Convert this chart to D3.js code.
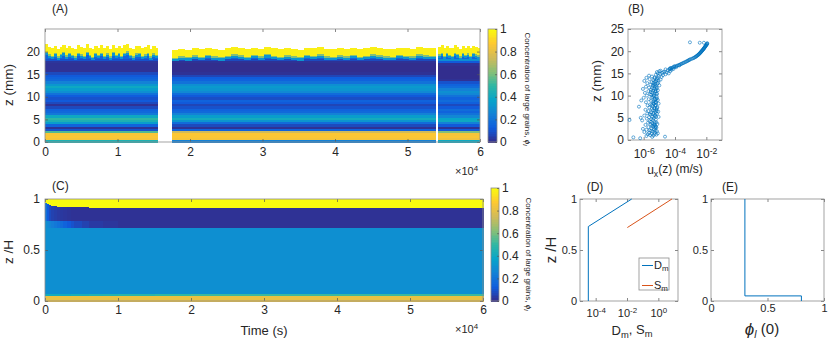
<!DOCTYPE html>
<html><head><meta charset="utf-8">
<script src="https://cdn.jsdelivr.net/npm/d3@7"></script>
<style>
body{margin:0;background:#fff}
text{font-family:"Liberation Sans",Arial,Helvetica,sans-serif;fill:#262626}
</style></head><body>
<svg id="fig" width="830" height="341" xmlns="http://www.w3.org/2000/svg"></svg>
<script>
// ---------------- DATA ----------------
// Panel A: measured concentration of large grains (phi_l) vs depth bands (0.5 mm) for three recording segments
const aSegments = [[0, 15600], [17500, 53900], [54200, 60000]];
const aBandBottom = [0,0.5,1,1.5,2,2.5,3,3.5,4,4.5,5,5.5,6,6.5,7,7.5,8,8.5,9,9.5,10,10.5,11,11.5,12,12.5,13,13.5,14,14.5,15,15.5,16,16.5,17,17.5,18];
const aPhiSeg1 = [0.45,0.85,0.87,0.86,0.55,0.1,0.02,0.15,0.35,0.45,0.5,0.4,0.22,0.17,0.15,0.08,0.02,0.08,0.12,0.1,0.13,0.2,0.3,0.35,0.4,0.33,0.25,0.17,0.15,0.12,0.08,0.02,0.02,0.02,0.02,0.03,0.1];
const aPhiSeg2 = [0.25,0.85,0.87,0.87,0.75,0.15,0.02,0.08,0.18,0.32,0.42,0.35,0.25,0.17,0.15,0.1,0.07,0.12,0.15,0.09,0.12,0.18,0.28,0.32,0.34,0.3,0.2,0.15,0.13,0.07,0.02,0.01,0.01,0.01,0.01,0.02,0.08];
const aPhiSeg3 = [0.4,0.83,0.86,0.85,0.62,0.12,0.02,0.12,0.25,0.4,0.38,0.27,0.2,0.15,0.18,0.12,0.08,0.14,0.18,0.15,0.2,0.27,0.3,0.25,0.18,0.15,0.1,0.02,0.01,0.01,0.01,0.01,0.01,0.01,0.02,0.12,0.3];
// free-surface height (mm) of each time column in each segment
const aTopSeg1 = [21.6,21.0,20.7,21.3,20.6,21.1,21.5,20.8,21.3,20.9,20.6,21.4,21.0,20.7,21.6,20.9,20.5,21.3,20.9,21.4,20.7,21.2,20.6,21.5,20.9,21.3,20.7,21.4,21.7,20.9,20.6,21.2,21.3,20.7,21.0,21.4,20.6,21.2,20.9];
const aTopSeg2 = [20.3,20.6,20.4,20.8,20.5,20.9,20.6,20.4,20.7,21.0,20.8,20.5,20.9,20.6,21.1,20.7,20.5,20.8,20.6,20.4,20.9,20.7,21.0,20.6,20.5,20.8,20.6,20.9,20.5,20.7,21.0,20.8,20.6,20.5,20.9,20.7,20.6,21.0,20.8,20.7];
const aTopSeg3 = [21.0,21.4,20.7,21.3,20.9,20.7,21.4,21.1,20.6,21.3,20.9,21.2,20.7,21.3,21.0,20.8];
const aTopLayerDepth = [2.3, 1.8, 1.5]; // depth below surface where each top layer starts
const aTopLayerPhi = [0.32, 0.62, 0.97];
const aTopBasePhi = 0.15;
const aXTicks = [0,10000,20000,30000,40000,50000,60000];
const aYTicks = [0,5,10,15,20];

// Panel B: u_x(z) scatter [z (mm), u (m/s)]
const bPoints = [[0.4,6e-7],[0.6,2.2e-7],[0.75,2.3e-5],[0.7,3.5e-6],[0.9,1.5e-6],[1.0,4.2e-6],[1.1,2.6e-6],[1.2,6.5e-6],[1.3,1.8e-6],[1.35,5e-6],[1.4,3.2e-6],[1.5,8e-6],[1.6,2.2e-6],[1.7,5e-6],[1.8,1.1e-6],[1.9,3.8e-6],[2.0,7e-6],[2.1,3e-6],[2.15,5.5e-6],[2.2,2.4e-6],[2.3,1.5e-6],[2.4,4.6e-6],[2.5,9e-7],[2.6,3.1e-6],[2.7,5.5e-6],[2.8,6.5e-6],[2.9,2e-6],[2.95,6e-6],[3.0,4e-6],[3.1,5.6e-6],[3.2,3.4e-6],[3.3,4.3e-6],[3.4,1.3e-6],[3.45,5e-6],[3.5,2.8e-6],[3.6,7.5e-6],[3.7,4.8e-6],[3.8,3.6e-6],[3.9,1.9e-6],[3.95,6.5e-6],[4.0,5.2e-6],[4.1,3e-6],[4.2,2.4e-6],[4.4,8e-7],[4.5,1.25e-7],[4.55,3.8e-6],[4.6,6e-6],[4.7,3e-6],[4.8,1.6e-6],[4.9,4.5e-6],[5.0,6.5e-7],[5.1,2.2e-6],[5.2,9e-6],[5.25,6e-6],[5.3,3.5e-6],[5.4,5e-6],[5.5,1.1e-6],[5.6,5.5e-6],[5.7,2.8e-6],[5.8,4e-6],[5.85,2.4e-6],[5.9,7e-6],[6.0,1.7e-6],[6.1,4.2e-6],[6.2,3e-6],[6.3,5.8e-6],[6.4,8.5e-6],[6.5,2e-6],[6.55,6.8e-6],[6.6,5e-6],[6.7,3.8e-6],[6.8,1.3e-6],[6.9,6.5e-6],[7.0,3.2e-6],[7.1,4.8e-6],[7.2,7e-6],[7.25,5e-6],[7.3,2.3e-6],[7.4,7.5e-6],[7.5,5e-7],[7.6,3.8e-6],[7.7,5.5e-6],[7.8,1.8e-6],[7.85,3.3e-6],[7.9,5.8e-6],[8.0,2.6e-6],[8.1,4.5e-6],[8.2,9e-6],[8.3,4.2e-6],[8.4,6.2e-6],[8.45,5.2e-6],[8.5,1.4e-6],[8.6,6e-6],[8.7,4e-6],[8.8,3e-6],[8.9,7e-7],[9.0,8e-6],[9.1,5e-6],[9.15,6.2e-6],[9.2,2.1e-6],[9.3,5.2e-6],[9.4,7e-6],[9.5,1e-6],[9.6,3.4e-6],[9.75,3.9e-6],[9.8,6.8e-6],[9.9,4.5e-6],[10.0,1.6e-6],[10.1,4.4e-6],[10.2,3e-6],[10.3,2.5e-6],[10.4,7.2e-6],[10.45,6.4e-6],[10.5,5e-6],[10.6,1.2e-6],[10.7,3.6e-6],[10.8,2.8e-6],[10.9,5.5e-6],[11.0,2e-6],[11.05,5.8e-6],[11.1,4e-6],[11.2,8e-6],[11.3,3e-6],[11.4,6e-6],[11.5,9e-7],[11.6,4.6e-6],[11.65,7e-6],[11.7,3.5e-6],[11.8,2.2e-6],[11.9,6.5e-6],[12.0,1.4e-6],[12.1,5e-6],[12.2,3.8e-6],[12.25,6e-6],[12.3,1e-5],[12.4,4.4e-6],[12.5,2.7e-6],[12.6,5.3e-6],[12.7,7.5e-6],[12.8,1.7e-6],[12.85,4.2e-6],[12.9,8.5e-6],[13.0,3.2e-6],[13.1,5e-6],[13.2,6e-6],[13.3,1.1e-6],[13.4,9e-6],[13.45,6.8e-6],[13.5,4.2e-6],[13.6,1.2e-5],[13.7,2.4e-6],[13.8,7e-6],[13.9,5e-6],[14.0,1.5e-6],[14.05,8e-6],[14.1,5e-6],[14.2,1.4e-5],[14.3,3.4e-6],[14.4,9e-6],[14.5,2.2e-6],[14.6,1.7e-5],[14.7,6e-6],[14.8,2.5e-5],[14.9,1.1e-5],[15.0,4e-5],[15.0,8e-6],[15.1,1.5e-5],[15.2,3e-5],[15.3,7e-6],[15.3,1.8e-5],[15.4,2.2e-5],[15.5,5e-5],[15.5,1e-5],[15.6,1.2e-5],[15.7,3.5e-5],[15.8,6e-5],[15.9,2.5e-5],[15.9,4.5e-5],[16.0,4.5e-5],[16.0,8e-5],[16.1,5.2e-5],[16.2,6e-5],[16.2,5e-5],[16.3,6.9e-5],[16.4,7.9e-5],[16.4,1.2e-4],[16.5,9.3e-5],[16.6,1.1e-4],[16.6,9e-5],[16.7,1.3e-4],[16.8,1.5e-4],[16.8,1.9e-4],[16.9,1.8e-4],[17.0,2.1e-4],[17.1,2.4e-4],[17.2,2.75e-4],[17.3,3.2e-4],[17.4,3.6e-4],[17.5,4.2e-4],[17.6,4.8e-4],[17.7,5.5e-4],[17.8,6.2e-4],[17.9,6.9e-4],[18.0,7.8e-4],[18.1,8.7e-4],[18.2,9.8e-4],[18.3,1.2e-3],[18.4,1.4e-3],[18.5,1.6e-3],[18.6,1.8e-3],[18.7,2e-3],[18.8,2.2e-3],[18.9,2.4e-3],[19.0,2.6e-3],[19.1,2.85e-3],[19.2,3.1e-3],[19.3,3.3e-3],[19.4,3.5e-3],[19.5,3.75e-3],[19.6,4e-3],[19.7,4.25e-3],[19.8,4.5e-3],[19.9,4.75e-3],[20.0,5e-3],[20.1,5.3e-3],[20.2,5.6e-3],[20.3,5.9e-3],[20.4,6.3e-3],[20.5,6.6e-3],[20.6,6.9e-3],[20.7,7.2e-3],[20.8,7.6e-3],[20.9,7.9e-3],[21.0,8.3e-3],[21.1,8.7e-3],[21.2,9.1e-3],[21.3,9.5e-3],[21.4,1e-2],[21.5,1.05e-2],[21.6,1.1e-2],[21.7,1.12e-2],[21.8,1.15e-2],[22.0,9e-4],[21.9,3.8e-3],[21.9,7e-3]];
const bXTicks = [1e-6, 1e-4, 1e-2];
const bYTicks = [0,5,10,15,20,25];

// Panel C: model phi_l(z/H, t)
const cTimeEdges = [0,250,500,800,1200,1600,2000,2500,3000,3500,4000,5000,6000,8000,10000,15000,20000,30000,40000,50000,60000];
const cYellowBottom = [0.97,0.955,0.945,0.94,0.935,0.93,0.928,0.926,0.925,0.924,0.923,0.922,0.921,0.92,0.92,0.92,0.92,0.92,0.92,0.92];
const cWedgePhi = [0.3,0.28,0.26,0.24,0.22,0.2,0.18,0.15,0.12,0.1,0.08,0.06,0.04,0.03,0.02,0.02,0.02,0.02,0.02,0.02];
const cDarkPhi = [0.2,0.12,0.08,0.06,0.05,0.04,0.035,0.03,0.025,0.02,0.02,0.02,0.02,0.02,0.02,0.02,0.02,0.02,0.02,0.02];
const cMidPhi = [0.3,0.3,0.3,0.3,0.3,0.3,0.3,0.3,0.3,0.3,0.3,0.3,0.3,0.3,0.3,0.3,0.3,0.3,0.3,0.3];
const cBottomMixPhi = [0.42,0.42,0.42,0.42,0.42,0.42,0.42,0.42,0.42,0.44,0.44,0.44,0.46,0.47,0.48,0.5,0.52,0.52,0.52,0.52];
const cBaseZ = [0, 0.05, 0.075, 0.72, 0.79]; // band bottoms: orange, mix, middle, wedge, dark
const cBasePhi = 0.82;
const cXTicks = [0,10000,20000,30000,40000,50000,60000];
const cYTicks = [0,0.5,1];

// Panel D: D_m and S_m profiles
const dDz = [0, 0.73, 1];
const dDm = [3.4e-5, 3.4e-5, 0.02];
const dSz = [0.72, 1];
const dSm = [0.0105, 7.4];
const dXTicks = [1e-4, 1e-2, 1];

// Panel E: initial phi_l(0) profile
const eZ = [1, 0.05, 0.05, 0];
const ePhi = [0.3, 0.3, 0.8, 0.8];
const eXTicks = [0, 0.5, 1];

const cbTicks = [0,0.2,0.4,0.6,0.8,1];

// ---------------- STYLE ----------------
const parulaPos = [0,.125,.25,.375,.5,.625,.75,.875,1];
const parulaCol = ["#352A87","#0F5CDD","#1481D6","#06A4CA","#2EB7A4","#87BF77","#D1BB59","#FEC832","#F9FB0E"];
const color = d3.scaleLinear().domain(parulaPos).range(parulaCol).interpolate(d3.interpolateRgb).clamp(true);
const BLUE = "#0072BD", ORANGE = "#D95319";
const svg = d3.select("#fig");

function styleAxis(g){
  g.select(".domain").remove();
  g.selectAll(".tick line").attr("stroke","#555").attr("stroke-width",0.7);
  g.selectAll(".tick text").attr("fill","#262626");
}
function drawAxes(x, y, o){
  const [xa,xb] = x.range(), [yb,ya] = y.range();
  const g = svg.append("g");
  const tl = o.tl || 3;
  g.append("g").attr("transform",`translate(0,${yb})`)
    .call(d3.axisBottom(x).tickValues(o.xt).tickSize(-tl).tickPadding(o.xpad).tickFormat(o.xf))
    .call(styleAxis).attr("font-size",o.fs).attr("font-family",null);
  g.append("g").attr("transform",`translate(0,${ya})`)
    .call(d3.axisTop(x).tickValues(o.xt).tickSize(-tl).tickFormat(""))
    .call(styleAxis);
  g.append("g").attr("transform",`translate(${xa},0)`)
    .call(d3.axisLeft(y).tickValues(o.yt).tickSize(-tl).tickPadding(o.ypad).tickFormat(o.yf))
    .call(styleAxis).attr("font-size",o.fs).attr("font-family",null);
  g.append("g").attr("transform",`translate(${xb},0)`)
    .call(d3.axisRight(y).tickValues(o.yt).tickSize(-tl).tickFormat(""))
    .call(styleAxis);
  g.append("rect").attr("x",xa).attr("y",ya).attr("width",xb-xa).attr("height",yb-ya)
    .attr("fill","none").attr("stroke","#8c8c8c").attr("stroke-width",0.8);
  return g;
}
function powLabels(g){
  g.selectAll(".tick text").each(function(d){
    const t = d3.select(this); const e = Math.round(Math.log10(d));
    t.text(""); t.append("tspan").text("10");
    t.append("tspan").attr("dy","-0.45em").attr("font-size","0.72em").text(e < 0 ? "-" + (-e) : e);
  });
}
function label(x, y, txt, fs, opts){
  const t = svg.append("text").attr("x",x).attr("y",y).attr("font-size",fs).attr("text-anchor",(opts&&opts.anchor)||"middle");
  if (opts && opts.rot) t.attr("transform",`rotate(${opts.rot},${x},${y})`);
  txt.forEach(p => { const s = t.append("tspan").text(p.t);
    if (p.sub) s.attr("font-size", p.fs || "0.72em").attr("dy", p.sub);
    if (p.it) s.attr("font-style","italic");
    if (p.fsz) s.attr("font-size", p.fsz); });
  return t;
}
function colorbar(x0, x1, y0, y1, lx, ly){
  const s = d3.scaleLinear().domain([0,1]).range([y1,y0]);
  const g = svg.append("g").attr("shape-rendering","crispEdges");
  const n = 64;
  g.selectAll("rect").data(d3.range(n)).join("rect")
    .attr("x",x0).attr("width",x1-x0)
    .attr("y",i=>s((i+1)/n)).attr("height",i=>s(i/n)-s((i+1)/n)+0.6)
    .attr("fill",i=>color((i+0.5)/n));
  svg.append("rect").attr("x",x0).attr("y",y0).attr("width",x1-x0).attr("height",y1-y0)
    .attr("fill","none").attr("stroke","#8c8c8c").attr("stroke-width",0.8);
  svg.append("g").attr("transform",`translate(${x1},0)`)
    .call(d3.axisRight(s).tickValues(cbTicks).tickSize(-2).tickPadding(3).tickFormat(d=>d3.format("~g")(d)))
    .call(styleAxis).attr("font-size",12).attr("font-family",null);
  label(lx, ly, [{t:"Concentration of large grains, "},{t:"ϕ",it:true},{t:"l",it:true,sub:"0.3em",fs:"0.75em"}], 8, {rot:90});
}

// ---------------- PANEL A ----------------
const xA = d3.scaleLinear().domain([0,60000]).range([45,480]);
const yA = d3.scaleLinear().domain([0,25]).range([142,29]);
const gA = svg.append("g").attr("shape-rendering","crispEdges");
const aProfiles = [aPhiSeg1, aPhiSeg2, aPhiSeg3];
const aTops = [aTopSeg1, aTopSeg2, aTopSeg3];
aSegments.forEach((seg, si) => {
  const prof = aProfiles[si];
  aBandBottom.forEach((z, i) => {
    const z1 = i < aBandBottom.length - 1 ? aBandBottom[i+1] : 18.5;
    gA.append("rect").attr("x",xA(seg[0])).attr("width",xA(seg[1])-xA(seg[0]))
      .attr("y",yA(z1)).attr("height",yA(z)-yA(z1)+0.5).attr("fill",color(prof[i]));
  });
  const tops = aTops[si], n = tops.length, w = (seg[1]-seg[0])/n;
  tops.forEach((h, j) => {
    const t0 = seg[0] + j*w, t1 = t0 + w;
    const bounds = [18.5, h - aTopLayerDepth[0], h - aTopLayerDepth[1], h - aTopLayerDepth[2], h];
    const phis = [aTopBasePhi].concat(aTopLayerPhi);
    phis.forEach((p, k) => {
      gA.append("rect").attr("x",xA(t0)).attr("width",xA(t1)-xA(t0)+0.3)
        .attr("y",yA(bounds[k+1])).attr("height",Math.max(0,yA(bounds[k])-yA(bounds[k+1])+0.5))
        .attr("fill",color(p));
    });
  });
});
drawAxes(xA, yA, {xt:aXTicks, yt:aYTicks, xf:d=>d/1e4, yf:d=>d, xpad:5, ypad:5, fs:12});
label(52, 13, [{t:"(A)"}], 12, {anchor:"start"});
label(13, 85, [{t:"z (mm)"}], 13.5, {rot:-90});
label(455, 175, [{t:"×10"},{t:"4",sub:"-0.5em"}], 11, {anchor:"start"});
colorbar(488, 497, 29, 142, 525, 89);

// ---------------- PANEL B ----------------
const xB = d3.scaleLog().domain([1e-7,1e-1]).range([628,722]);
const yB = d3.scaleLinear().domain([0,25]).range([140,29]);
const gBax = drawAxes(xB, yB, {xt:bXTicks, yt:bYTicks, xf:d=>d, yf:d=>d, xpad:9, ypad:4, fs:12});
gBax.select("g").call(powLabels);
svg.append("g").selectAll("circle").data(bPoints).join("circle")
  .attr("cx",d=>xB(d[1])).attr("cy",d=>yB(d[0])).attr("r",1.5)
  .attr("fill","none").attr("stroke",BLUE).attr("stroke-width",0.6);
label(636, 13, [{t:"(B)"}], 12);
label(601, 81, [{t:"z (mm)"}], 13.5, {rot:-90});
label(675, 174, [{t:"u"},{t:"x",sub:"0.3em"},{t:"(z) (m/s)",sub:"-0.3em",fs:"1em"}], 12);

// ---------------- PANEL C ----------------
const xC = d3.scaleLinear().domain([0,60000]).range([45,483]);
const yC = d3.scaleLinear().domain([0,1]).range([301,199]);
const gC = svg.append("g").attr("shape-rendering","crispEdges");
for (let j = 0; j < cTimeEdges.length - 1; j++){
  const t0 = cTimeEdges[j], t1 = cTimeEdges[j+1];
  const bounds = cBaseZ.concat([cYellowBottom[j], 1]);
  const phis = [cBasePhi, cBottomMixPhi[j], cMidPhi[j], cWedgePhi[j], cDarkPhi[j], 1];
  phis.forEach((p, k) => {
    gC.append("rect").attr("x",xC(t0)).attr("width",xC(t1)-xC(t0)+0.5)
      .attr("y",yC(bounds[k+1])).attr("height",yC(bounds[k])-yC(bounds[k+1])+0.5)
      .attr("fill",color(p));
  });
}
drawAxes(xC, yC, {xt:cXTicks, yt:cYTicks, xf:d=>d/1e4, yf:d=>d, xpad:4, ypad:5, fs:12});
label(52, 190, [{t:"(C)"}], 12, {anchor:"start"});
label(13, 252, [{t:"z /H"}], 13.5, {rot:-90});
label(264, 335, [{t:"Time (s)"}], 13);
label(455, 333, [{t:"×10"},{t:"4",sub:"-0.5em"}], 11, {anchor:"start"});
colorbar(491, 499, 188, 301, 526, 254);

// ---------------- PANEL D ----------------
const xD = d3.scaleLog().domain([1e-5,18]).range([580,678]);
const yD = d3.scaleLinear().domain([0,1]).range([301,199]);
const gDax = drawAxes(xD, yD, {xt:dXTicks, yt:cYTicks, xf:d=>d, yf:d=>d, xpad:8, ypad:3, fs:11});
gDax.select("g").call(powLabels);
const lineD = d3.line().x(d=>xD(d[0])).y(d=>yD(d[1]));
svg.append("path").datum(dDm.map((v,i)=>[v,dDz[i]])).attr("d",lineD).attr("fill","none").attr("stroke",BLUE).attr("stroke-width",1);
svg.append("path").datum(dSm.map((v,i)=>[v,dSz[i]])).attr("d",lineD).attr("fill","none").attr("stroke",ORANGE).attr("stroke-width",1);
svg.append("rect").attr("x",639).attr("y",258).attr("width",30).attr("height",32).attr("fill","#fff").attr("stroke","#8c8c8c").attr("stroke-width",0.8);
svg.append("line").attr("x1",642).attr("x2",653).attr("y1",265.5).attr("y2",265.5).attr("stroke",BLUE);
svg.append("line").attr("x1",642).attr("x2",653).attr("y1",285.5).attr("y2",285.5).attr("stroke",ORANGE);
label(654, 269, [{t:"D"},{t:"m",sub:"0.3em"}], 11, {anchor:"start"});
label(654, 289, [{t:"S"},{t:"m",sub:"0.3em"}], 11, {anchor:"start"});
label(595, 191, [{t:"(D)"}], 12);
label(556, 250, [{t:"z /H"}], 15, {rot:-90});
label(632, 335, [{t:"D"},{t:"m",sub:"0.3em"},{t:", S",sub:"-0.3em",fs:"1em"},{t:"m",sub:"0.3em"}], 13);

// ---------------- PANEL E ----------------
const xE = d3.scaleLinear().domain([0,1]).range([711,824]);
const yE = d3.scaleLinear().domain([0,1]).range([301,199]);
drawAxes(xE, yE, {xt:eXTicks, yt:cYTicks, xf:d=>d3.format("~g")(d), yf:d=>d3.format("~g")(d), xpad:3, ypad:3, fs:11});
const lineE = d3.line().x(d=>xE(d[0])).y(d=>yE(d[1]));
svg.append("path").datum(ePhi.map((v,i)=>[v,eZ[i]])).attr("d",lineE).attr("fill","none").attr("stroke",BLUE).attr("stroke-width",1);
label(730, 191, [{t:"(E)"}], 12);
label(762, 335, [{t:"ϕ",it:true,fsz:17},{t:"l",it:true,sub:"0.3em",fs:"0.7em"},{t:" (0)",sub:"-0.3em",fs:"1em"}], 15);
</script>
</body></html>
